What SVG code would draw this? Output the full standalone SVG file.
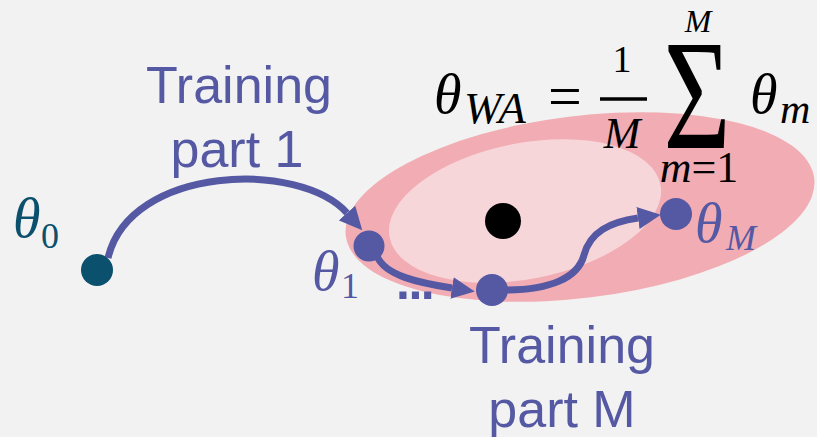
<svg xmlns="http://www.w3.org/2000/svg" width="817" height="437" viewBox="0 0 817 437">
  <style>
    .lbl { font-family: "Liberation Sans", Arial, sans-serif; font-size: 52px; fill: #5558a3; text-anchor: middle; }
    .math { font-family: "Liberation Serif", "Times New Roman", serif; font-style: italic; }
    .up { font-family: "Liberation Serif", "Times New Roman", serif; font-style: normal; }
    .conn { fill: none; stroke: #5558a3; stroke-width: 7; marker-end: url(#head); }
    .node { fill: #5558a3; }
  </style>
  <defs>
    <marker id="head" markerUnits="userSpaceOnUse" viewBox="0 0 24 24" markerWidth="24" markerHeight="24" refX="0" refY="12" orient="auto">
      <path d="M0,1 L23,12 L0,23 Z" fill="#5558a3"/>
    </marker>
  </defs>
  <rect width="817" height="437" fill="#f2f2f2"/>

  <g id="regions">
    <ellipse cx="580" cy="207" rx="236" ry="91" transform="rotate(-7 580 207)" fill="#f1adb3"/>
    <ellipse cx="525" cy="211" rx="138" ry="68" transform="rotate(-11 525 211)" fill="#f7d6da"/>
  </g>

  <g id="wa-center">
    <circle cx="503" cy="221" r="18" fill="#000"/>
  </g>

  <g id="connectors">
    <path class="conn" d="M108,258 C130,165 300,160 347,213"/>
    <path class="conn" d="M377,256 C385,276 420,283 452,288"/>
    <path class="conn" d="M505,290 C550,290 578,278 584,255 C590,232 610,222 638,218"/>
  </g>

  <g id="theta0">
    <circle cx="97" cy="270" r="16" fill="#0b506c"/>
    <text class="math" x="13" y="237" font-size="56" fill="#0b506c">θ</text>
    <text class="up" x="41" y="248" font-size="36" fill="#0b506c">0</text>
  </g>

  <g id="theta1">
    <circle class="node" cx="369" cy="246" r="15.5"/>
    <text class="math" x="312" y="290" font-size="56" fill="#5558a3">θ</text>
    <text class="up" x="341" y="298" font-size="36" fill="#5558a3">1</text>
  </g>

  <g id="theta-mid">
    <circle class="node" cx="492" cy="290" r="16"/>
    <text x="396" y="299" font-family="Liberation Sans, Arial, sans-serif" font-weight="bold" font-size="50" fill="#5558a3" letter-spacing="-1.5">...</text>
  </g>

  <g id="thetaM">
    <circle class="node" cx="676" cy="214" r="16"/>
    <text class="math" x="695" y="242" font-size="56" fill="#5558a3">θ</text>
    <text class="math" x="726" y="250" font-size="36" fill="#5558a3">M</text>
  </g>

  <g id="label-part1">
    <text class="lbl" x="239" y="103">Training</text>
    <text class="lbl" x="237" y="167">part 1</text>
  </g>

  <g id="label-partM">
    <text class="lbl" x="562" y="363">Training</text>
    <text class="lbl" x="562" y="427">part M</text>
  </g>

  <g id="formula" fill="#000">
    <text class="math" x="434" y="113" font-size="56">θ</text>
    <text class="math" x="464" y="123" font-size="45">WA</text>
    <text class="up" x="565" y="116" font-size="60" text-anchor="middle">=</text>
    <text class="up" x="622" y="72" font-size="38" text-anchor="middle">1</text>
    <line x1="600" y1="99" x2="647" y2="99" stroke="#000" stroke-width="3.5"/>
    <text class="math" x="622" y="148" font-size="44" text-anchor="middle">M</text>
    <text class="up" x="0" y="0" font-size="156" text-anchor="middle" transform="translate(697 148) scale(0.74 1)">Σ</text>
    <text class="math" x="698" y="32" font-size="32" text-anchor="middle">M</text>
    <text class="math" x="699" y="182" font-size="44" text-anchor="middle">m<tspan class="up">=1</tspan></text>
    <text class="math" x="750" y="113" font-size="56">θ</text>
    <text class="math" x="780" y="123" font-size="42">m</text>
  </g>
</svg>
